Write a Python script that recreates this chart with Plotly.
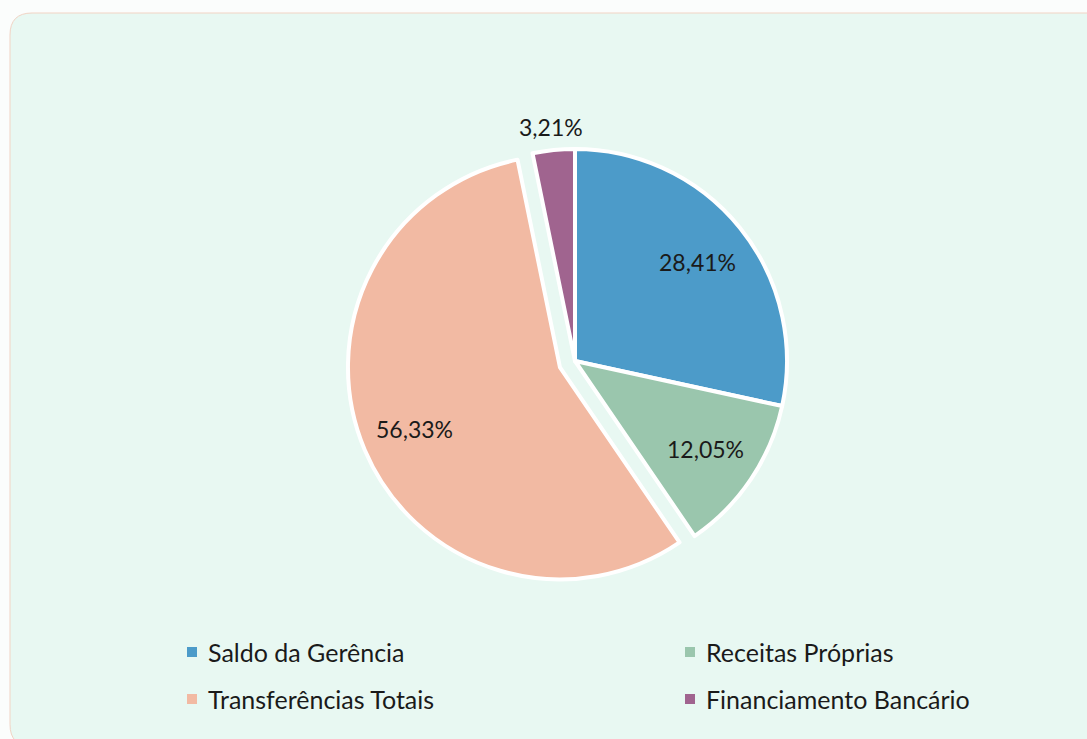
import math
import plotly.graph_objects as go

# Revenue structure (percent shares)
categories = ["Saldo da Gerência", "Receitas Próprias", "Transferências Totais", "Financiamento Bancário"]
shares = [28.41, 12.05, 56.33, 3.21]
slice_colors = ["#4C9BC9", "#9AC6AD", "#F2BAA3", "#A0648F"]
slice_pull = [0.0, 0.0, 0.077, 0.0]
label_inside = [True, True, True, False]

W, H = 1087, 739
CX, CY, R = 575, 361, 212          # pie centre / radius, pixels
FONT = "Lato, 'Open Sans', sans-serif"
TEXT = "#1A1A1A"
BG = "#E8F8F2"

half = R * (1 + max(slice_pull))
dom_x = [(CX - half) / W, (CX + half) / W]
dom_y = [1 - (CY + half) / H, 1 - (CY - half) / H]

fig = go.Figure(go.Pie(
    labels=categories,
    values=shares,
    sort=False,
    direction="clockwise",
    rotation=0,
    pull=slice_pull,
    marker=dict(colors=slice_colors, line=dict(color="white", width=4)),
    textinfo="none",
    hoverinfo="label+percent",
    domain=dict(x=dom_x, y=dom_y),
    showlegend=False,
))

# Percentage labels placed along each slice's mid-angle
total = sum(shares)
cum = 0.0
for v, inside, p in zip(shares, label_inside, slice_pull):
    mid = (cum + v / 2) / total * 2 * math.pi
    cum += v
    dist = R * ((0.745 if inside else 1.11) + p)
    px = CX + dist * math.sin(mid)
    py = CY - dist * math.cos(mid)
    fig.add_annotation(
        x=px / W, y=1 - py / H, xref="paper", yref="paper",
        text=f"{v / total * 100:.2f}%".replace(".", ","),
        showarrow=False, font=dict(family=FONT, size=23, color=TEXT),
        xanchor="center", yanchor="middle",
    )

# Two-column legend under the pie
LEG_COLS = [192, 690]   # swatch centres (x)
LEG_ROWS = [652, 699]   # row centres (y)
SW = 5                  # half swatch size
for i, (name, col) in enumerate(zip(categories, slice_colors)):
    lx = LEG_COLS[i % 2]
    ly = LEG_ROWS[i // 2]
    fig.add_shape(type="rect", xref="paper", yref="paper",
                  x0=(lx - SW) / W, x1=(lx + SW) / W,
                  y0=1 - (ly + SW) / H, y1=1 - (ly - SW) / H,
                  fillcolor=col, line=dict(width=0))
    fig.add_annotation(x=(lx + 14) / W, y=1 - ly / H, xref="paper", yref="paper",
                       text=name, showarrow=False, xanchor="left", yanchor="middle",
                       font=dict(family=FONT, size=25, color=TEXT))

# Rounded card behind the chart
x0, y0, x1, y1, rr = 10 / W, 1 - 13 / H, 1.01, -0.01, 22
rx, ry = rr / W, rr / H
card = (f"M {x0 + rx},{y0} L {x1},{y0} L {x1},{y1} L {x0 + rx},{y1} "
        f"Q {x0},{y1} {x0},{y1 + ry} L {x0},{y0 - ry} Q {x0},{y0} {x0 + rx},{y0} Z")
fig.add_shape(type="path", path=card, xref="paper", yref="paper",
              fillcolor=BG, line=dict(color="#F1D3C4", width=1), layer="below")

fig.update_layout(
    width=W, height=H,
    margin=dict(l=0, r=0, t=0, b=0),
    paper_bgcolor="#FBFDFC",
    plot_bgcolor=BG,
    showlegend=False,
)

fig.write_html("out.html")
